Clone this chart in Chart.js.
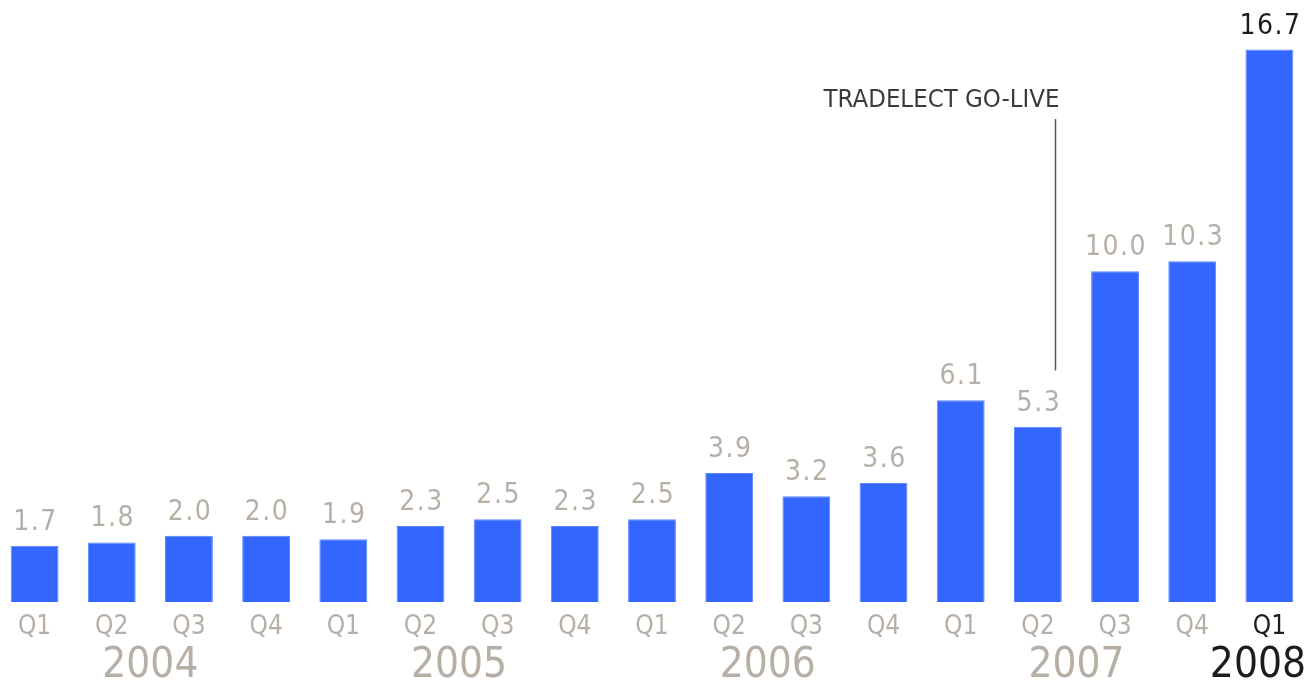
<!DOCTYPE html>
<html>
<head>
<meta charset="utf-8">
<script src="https://cdn.jsdelivr.net/npm/chart.js@4.4.1/dist/chart.umd.min.js"></script>
<style>
  html, body { margin: 0; padding: 0; background: #fff; overflow: hidden; }
  #wrap { position: absolute; left: -4px; top: 0; width: 1312px; height: 686px; }
</style>
</head>
<body>
<div id="wrap"><canvas id="chart"></canvas></div>
<script>
const quarters = ["Q1","Q2","Q3","Q4","Q1","Q2","Q3","Q4","Q1","Q2","Q3","Q4","Q1","Q2","Q3","Q4","Q1"];
const yearOf   = [2004,2004,2004,2004,2005,2005,2005,2005,2006,2006,2006,2006,2007,2007,2007,2007,2008];
const values   = [1.7,1.8,2.0,2.0,1.9,2.3,2.5,2.3,2.5,3.9,3.2,3.6,6.1,5.3,10.0,10.3,16.7];
const years    = [2004, 2005, 2006, 2007, 2008];

// annotation: Tradelect go-live, Q2 2007
const noteIndex = 13;
const noteText = "TRADELECT GO-LIVE";
const noteFrom = 7.0, noteTo = 14.6;

const GREY = "#b7afa6";
const DARK = "#1c1c1c";
const FONT = "'DejaVu Sans Condensed', 'DejaVu Sans', sans-serif";
const lastIdx = values.length - 1;

const labelsPlugin = {
  id: "labels",
  afterDatasetsDraw(chart) {
    const ctx = chart.ctx;
    const x = chart.scales.x, y = chart.scales.y;
    const meta = chart.getDatasetMeta(0);
    ctx.save();
    // values above bars
    ctx.textAlign = "center";
    ctx.textBaseline = "alphabetic";
    ctx.font = "28px " + FONT;
    ctx.letterSpacing = "1.5px";
    meta.data.forEach((bar, i) => {
      ctx.fillStyle = i === lastIdx ? DARK : GREY;
      ctx.fillText(values[i].toFixed(1), bar.x + 1, bar.y - 16);
    });
    ctx.letterSpacing = "0px";
    // year labels
    ctx.font = "42px " + FONT;
    ctx.textBaseline = "middle";
    years.forEach(yr => {
      const idx = yearOf.map((v, i) => v === yr ? i : -1).filter(i => i >= 0);
      let cx = idx.reduce((s, i) => s + x.getPixelForValue(i), 0) / idx.length;
      const w = ctx.measureText(String(yr)).width;
      cx = Math.min(cx, chart.width - w / 2 - 2);
      ctx.fillStyle = yr === 2008 ? DARK : GREY;
      ctx.fillText(String(yr), cx, 666);
    });
    // annotation
    const step = x.getPixelForValue(1) - x.getPixelForValue(0);
    const lx = Math.round(x.getPixelForValue(noteIndex) + step * 0.22) + 0.5;
    ctx.strokeStyle = "#555";
    ctx.lineWidth = 1.5;
    ctx.beginPath();
    ctx.moveTo(lx, y.getPixelForValue(noteTo));
    ctx.lineTo(lx, y.getPixelForValue(noteFrom));
    ctx.stroke();
    ctx.fillStyle = "#3a3a3a";
    ctx.font = "25.5px " + FONT;
    ctx.textAlign = "right";
    ctx.textBaseline = "alphabetic";
    ctx.fillText(noteText, lx + 4, 107);
    ctx.restore();
  }
};

new Chart(document.getElementById("chart"), {
  type: "bar",
  data: {
    labels: quarters,
    datasets: [{
      data: values,
      backgroundColor: "#3366ff",
      borderColor: "#5c86ff",
      borderWidth: 1,
      barPercentage: 0.62,
      categoryPercentage: 1.0,
    }],
  },
  options: {
    responsive: true,
    maintainAspectRatio: false,
    animation: false,
    layout: { padding: 0 },
    plugins: { legend: { display: false }, tooltip: { enabled: false } },
    scales: {
      x: {
        grid: { display: false, drawTicks: false },
        border: { display: false },
        ticks: {
          padding: 10,
          font: { family: FONT, size: 26 },
          color: (c) => c.index === lastIdx ? DARK : GREY,
          maxRotation: 0,
          autoSkip: false,
        },
        afterFit: (scale) => { scale.height = 84; },
      },
      y: { display: false, min: 0, max: 18.2 },
    },
  },
  plugins: [labelsPlugin],
});
</script>
</body>
</html>
